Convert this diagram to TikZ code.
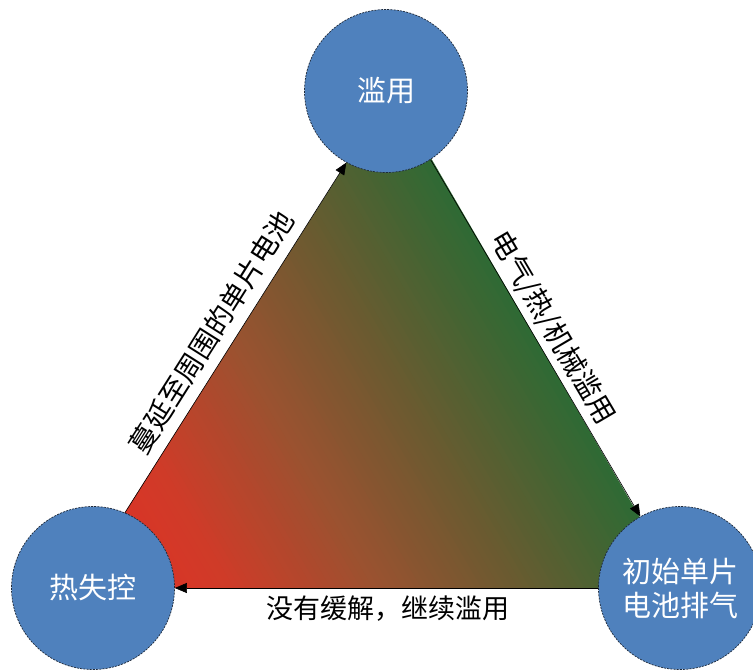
\documentclass[tikz,border=0pt]{standalone}
\usepackage{fontspec}
\setmainfont{Noto Sans CJK SC}
\usetikzlibrary{arrows.meta}
\definecolor{cRed}{HTML}{E52B25}
\definecolor{cRedB}{HTML}{D03B28}
\definecolor{cMid}{HTML}{9A5230}
\definecolor{cOlive}{HTML}{6C5A30}
\definecolor{cGreen}{HTML}{2E6A34}
\definecolor{cBlue}{HTML}{4F81BD}
\definecolor{cEdge}{HTML}{1F2A3A}
\newcommand{\gradseg}[4]{% from strip #1 to #2 (exclusive), colour #3 to #4
  \pgfmathtruncatemacro\last{#2-1}
  \foreach \i in {#1,...,\last} {
    \pgfmathsetmacro\pa{\i*5.222}
    \pgfmathsetmacro\pb{\pa+6.2}
    \pgfmathsetmacro\mx{(\i-#1+0.5)*100/(#2-#1)}
    \fill[#4!\mx!#3] (\pa,-700) rectangle (\pb,700);
  }}
\begin{document}
\begin{tikzpicture}[x=1pt,y=-1pt,
  state/.style={circle, fill=cBlue, draw=cEdge, dash pattern=on 2pt off 1.2pt, line width=0.7pt,
    minimum size=163pt, inner sep=0pt, text=white, font=\fontsize{29}{34}\selectfont, align=center},
  link/.style={draw=black, line width=0.6pt, -{Triangle[length=12pt,width=10pt]}},
  lbl/.style={font=\fontsize{28}{32}\selectfont, text=black, inner sep=0pt}]
\useasboundingbox (0,0) rectangle (753,670);
\coordinate (vT) at (392,91);
\coordinate (vL) at (77,588);
\coordinate (vR) at (681,588);
% gradient triangle
\begin{scope}
  \clip (vL) -- (vT) -- (vR) -- cycle;
  \begin{scope}[shift={(vL)}, rotate=30.18]
    \gradseg{0}{25}{cRed}{cRedB}
    \gradseg{25}{50}{cRedB}{cMid}
    \gradseg{50}{72}{cMid}{cOlive}
    \gradseg{72}{100}{cOlive}{cGreen}
  \end{scope}
\end{scope}
% circles
\node[state] (top) at (386,91) {滥用};
\node[state] (left) at (93,588) {热失控};
\node[state] (right) at (680,588) {初始单片\\电池排气};
% connectors
\draw[link] (left.67.2) -- node[lbl, sloped, pos=0.48, above=10pt] {蔓延至周围的单片电池} (top.241.2);
\draw[link] (top.303.8) -- node[lbl, sloped, pos=0.5, above=5pt] {电气/热/机械滥用} (right.119.6);
\draw[link] (right.west) -- node[lbl, pos=0.496, below=7pt, font=\fontsize{27}{32}\selectfont] {没有缓解，继续滥用} (left.east);
\end{tikzpicture}
\end{document}
